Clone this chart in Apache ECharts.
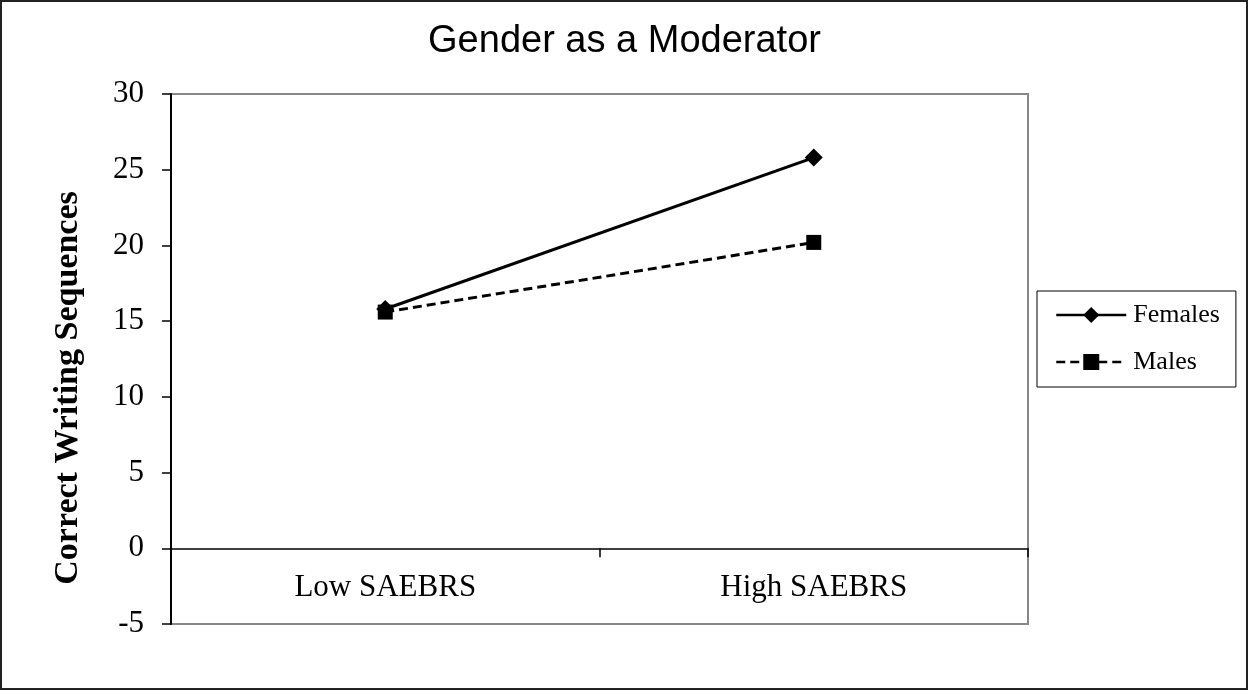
<!DOCTYPE html>
<html>
<head>
<meta charset="utf-8">
<script src="https://cdn.jsdelivr.net/npm/echarts@6/dist/echarts.min.js"></script>
<style>
  html, body { margin: 0; padding: 0; background: #fff; }
  #chart { width: 1249px; height: 691px; }
</style>
</head>
<body>
<div id="chart"></div>
<script>
// 資料
const categories = ['Low SAEBRS', 'High SAEBRS'];
const females = [15.8, 25.8];
const males = [15.6, 20.2];
const yTicks = { min: -5, max: 30, interval: 5 };

const chart = echarts.init(document.getElementById('chart'));

const serif = '"Liberation Serif", "DejaVu Serif", serif';

const option = {
  backgroundColor: '#fff',
  animation: false,
  title: {
    text: 'Gender as a Moderator',
    left: 'center',
    top: 18,
    textStyle: {
      fontFamily: '"Liberation Sans", Arial, sans-serif',
      fontSize: 38,
      fontWeight: 'normal',
      color: '#000',
    },
  },
  legend: {
    orient: 'vertical',
    left: 1037,
    top: 291,
    padding: [11, 16, 12, 18],
    borderColor: '#000',
    borderWidth: 1,
    itemWidth: 70,
    itemHeight: 20,
    itemGap: 21,
    lineStyle: { width: 2.5 },
    textStyle: {
      fontFamily: serif,
      fontSize: 26,
      lineHeight: 26,
      color: '#000',
      padding: [0, 0, 0, 2],
    },
    data: ['Females', 'Males'],
  },
  grid: {
    left: 171,
    right: 221,
    top: 94,
    bottom: 67,
    show: true,
    borderColor: '#888',
    borderWidth: 2,
  },
  xAxis: {
    type: 'category',
    data: categories,
    boundaryGap: true,
    axisLine: { onZero: true, lineStyle: { color: '#000', width: 1.5 } },
    axisTick: { show: true, length: 9, lineStyle: { color: '#000', width: 1.5 } },
    axisLabel: {
      // 標籤要貼在 0 線下方
      margin: -52,
      fontFamily: serif,
      fontSize: 31,
      color: '#000',
    },
  },
  yAxis: {
    type: 'value',
    min: yTicks.min,
    max: yTicks.max,
    interval: yTicks.interval,
    name: 'Correct Writing Sequences',
    nameLocation: 'middle',
    nameRotate: 90,
    nameGap: 86,
    nameTextStyle: {
      fontFamily: serif,
      fontSize: 34,
      fontWeight: 'bold',
      color: '#000',
      padding: [0, 58, 0, 0],
    },
    splitLine: { show: false },
    axisLine: { show: true, lineStyle: { color: '#000', width: 2 } },
    axisTick: { show: true, length: 9, lineStyle: { color: '#000', width: 1.5 } },
    axisLabel: {
      margin: 27,
      fontFamily: serif,
      fontSize: 31,
      color: '#000',
    },
  },
  series: [
    {
      name: 'Females',
      type: 'line',
      data: females,
      symbol: 'diamond',
      symbolSize: 18,
      itemStyle: { color: '#000' },
      lineStyle: { color: '#000', width: 3, type: 'solid' },
    },
    {
      name: 'Males',
      type: 'line',
      data: males,
      symbol: 'rect',
      symbolSize: 15,
      itemStyle: { color: '#000' },
      lineStyle: { color: '#000', width: 3, type: [9, 5] },
    },
  ],
  graphic: [
    {
      type: 'rect',
      silent: true,
      shape: { x: 1, y: 1, width: 1246, height: 688 },
      style: { fill: 'none', stroke: '#222', lineWidth: 2 },
    },
  ],
};

chart.setOption(option);
window.addEventListener('resize', () => chart.resize());
</script>
</body>
</html>
